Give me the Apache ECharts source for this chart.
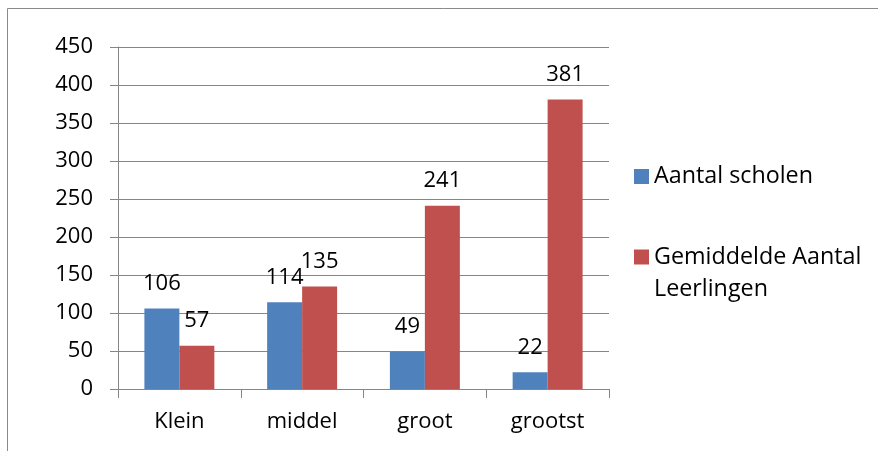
<!DOCTYPE html>
<html>
<head>
<meta charset="utf-8">
<script src="https://cdn.jsdelivr.net/npm/echarts@6/dist/echarts.min.js"></script>
<style>
html,body{margin:0;padding:0;background:#fff;}
#main{width:878px;height:451px;}
</style>
</head>
<body>
<div id="main"></div>
<script>
const categories = ['Klein', 'middel', 'groot', 'grootst'];
const aantalScholen = [106, 114, 49, 22];
const gemiddeldeLeerlingen = [57, 135, 241, 381];
const seriesNames = ['Aantal scholen', 'Gemiddelde Aantal Leerlingen'];
const yMin = 0, yMax = 450, yStep = 50;

const FONT = 'Open Sans';
const FS = 22;
const LFS = 23.3;
const gridColor = '#868686';

const chart = echarts.init(document.getElementById('main'));
const labelCfg = {
  show: true,
  position: 'top',
  distance: 13,
  color: '#000',
  fontFamily: FONT,
  fontSize: FS,
  lineHeight: 24
};
chart.setOption({
  animation: false,
  textStyle: { fontFamily: FONT },
  graphic: [{
    type: 'rect',
    shape: { x: 7.5, y: 8.5, width: 900, height: 500 },
    style: { fill: 'none', stroke: '#8a8a8a', lineWidth: 1 },
    silent: true
  }],
  grid: { left: 118, right: 269, top: 47, bottom: 62 },
  legend: [{
    data: [seriesNames[0]],
    orient: 'vertical',
    left: 634,
    top: 164,
    padding: 0,
    icon: 'rect',
    itemWidth: 15,
    itemHeight: 15,
    textStyle: { color: '#000', fontFamily: FONT, fontSize: LFS, lineHeight: 25 }
  }, {
    data: [seriesNames[1]],
    orient: 'vertical',
    left: 634,
    top: 209,
    padding: 0,
    icon: 'rect',
    itemWidth: 15,
    itemHeight: 15,
    formatter: function () { return ' \nGemiddelde Aantal\nLeerlingen'; },
    textStyle: { color: '#000', fontFamily: FONT, fontSize: LFS, lineHeight: 32 }
  }],
  xAxis: {
    type: 'category',
    data: categories,
    axisLine: { lineStyle: { color: gridColor, width: 1 } },
    axisTick: { show: true, length: 9, lineStyle: { color: gridColor } },
    axisLabel: { color: '#000', fontFamily: FONT, fontSize: FS, margin: 22 }
  },
  yAxis: {
    type: 'value',
    min: yMin,
    max: yMax,
    interval: yStep,
    axisLine: { show: true, lineStyle: { color: gridColor, width: 1 } },
    axisTick: { show: true, length: 8, lineStyle: { color: gridColor } },
    axisLabel: { color: '#000', fontFamily: FONT, fontSize: FS, margin: 25 },
    splitLine: { show: true, lineStyle: { color: gridColor, width: 1 } }
  },
  series: [{
    name: seriesNames[0],
    type: 'bar',
    data: aantalScholen,
    barGap: '0%',
    barCategoryGap: '43%',
    itemStyle: { color: '#4F81BD' },
    label: labelCfg
  }, {
    name: seriesNames[1],
    type: 'bar',
    data: gemiddeldeLeerlingen,
    itemStyle: { color: '#C0504D' },
    label: labelCfg
  }]
});
</script>
</body>
</html>
